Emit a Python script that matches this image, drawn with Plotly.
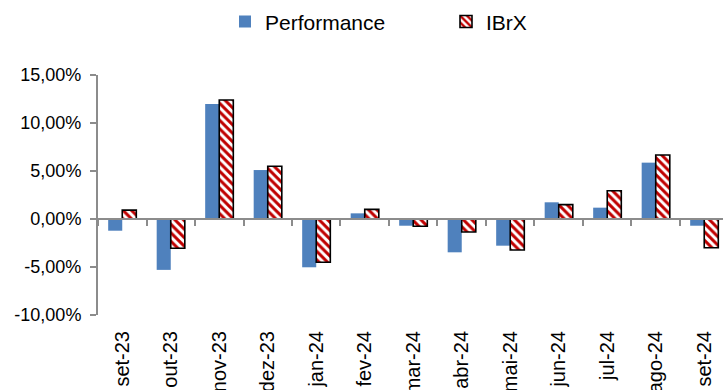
import plotly.graph_objects as go

# Monthly returns (%)
months = ["set-23", "out-23", "nov-23", "dez-23", "jan-24", "fev-24", "mar-24",
          "abr-24", "mai-24", "jun-24", "jul-24", "ago-24", "set-24"]
performance = [-1.22, -5.30, 11.98, 5.10, -5.03, 0.59, -0.70,
               -3.47, -2.78, 1.74, 1.18, 5.87, -0.70]
ibrx = [0.92, -3.05, 12.40, 5.50, -4.50, 1.00, -0.75,
        -1.35, -3.23, 1.50, 2.95, 6.67, -2.99]

y_ticks = [-10, -5, 0, 5, 10, 15]
y_tick_labels = ["-10,00%", "-5,00%", "0,00%", "5,00%", "10,00%", "15,00%"]

FONT = "Liberation Sans, Arial, sans-serif"
AXIS_GRAY = "#8c8c8c"

fig = go.Figure()
fig.add_trace(go.Bar(
    x=months, y=performance, name="Performance",
    marker=dict(color="#4F81BD", line=dict(width=0)),
))
fig.add_trace(go.Bar(
    x=months, y=ibrx, name="IBrX",
    marker=dict(
        color="white",
        line=dict(color="black", width=1.6),
        pattern=dict(shape="\\", fgcolor="#C00000", bgcolor="white",
                     size=6, solidity=0.5, fillmode="replace"),
    ),
))

# Visible category axis sits on the zero line; labels stay at the bottom.
fig.update_layout(
    width=723, height=390,
    margin=dict(l=98, r=0, t=75, b=75),
    paper_bgcolor="white", plot_bgcolor="white",
    barmode="group", bargap=0.42, bargroupgap=0,
    font=dict(family=FONT, color="black"),
    showlegend=True,
    legend=dict(
        orientation="h", x=0.2032, xanchor="left", y=0.944, yanchor="middle",
        yref="container", font=dict(size=21, family=FONT),
        entrywidth=176, entrywidthmode="pixels",
        itemwidth=30, bgcolor="rgba(0,0,0,0)",
    ),
    xaxis=dict(
        type="category", range=[-0.5, 12.387], automargin=False,
        showline=False, ticks="", showgrid=False, zeroline=False,
        tickangle=-90, tickfont=dict(size=20, family=FONT),
        ticklabelstandoff=11,
    ),
    xaxis2=dict(
        type="category", overlaying="x", matches="x", anchor="free",
        position=0.4, side="bottom", automargin=False,
        showline=True, linecolor=AXIS_GRAY, linewidth=2,
        ticks="outside", tickson="boundaries", ticklen=6, tickwidth=2,
        tickcolor=AXIS_GRAY, showticklabels=False, showgrid=False,
    ),
    yaxis=dict(
        range=[-10, 15], tickvals=y_ticks, ticktext=y_tick_labels,
        automargin=False,
        showline=True, linecolor=AXIS_GRAY, linewidth=2,
        ticks="outside", ticklen=6, tickwidth=2, tickcolor=AXIS_GRAY,
        showgrid=False, zeroline=False,
        tickfont=dict(size=18, family=FONT), ticklabelstandoff=5,
    ),
)

# Invisible helper trace binds the zero-line axis to the figure.
fig.add_trace(go.Bar(x=months, y=[None] * len(months), xaxis="x2",
                     showlegend=False, hoverinfo="skip"))

fig.write_html("out.html")
